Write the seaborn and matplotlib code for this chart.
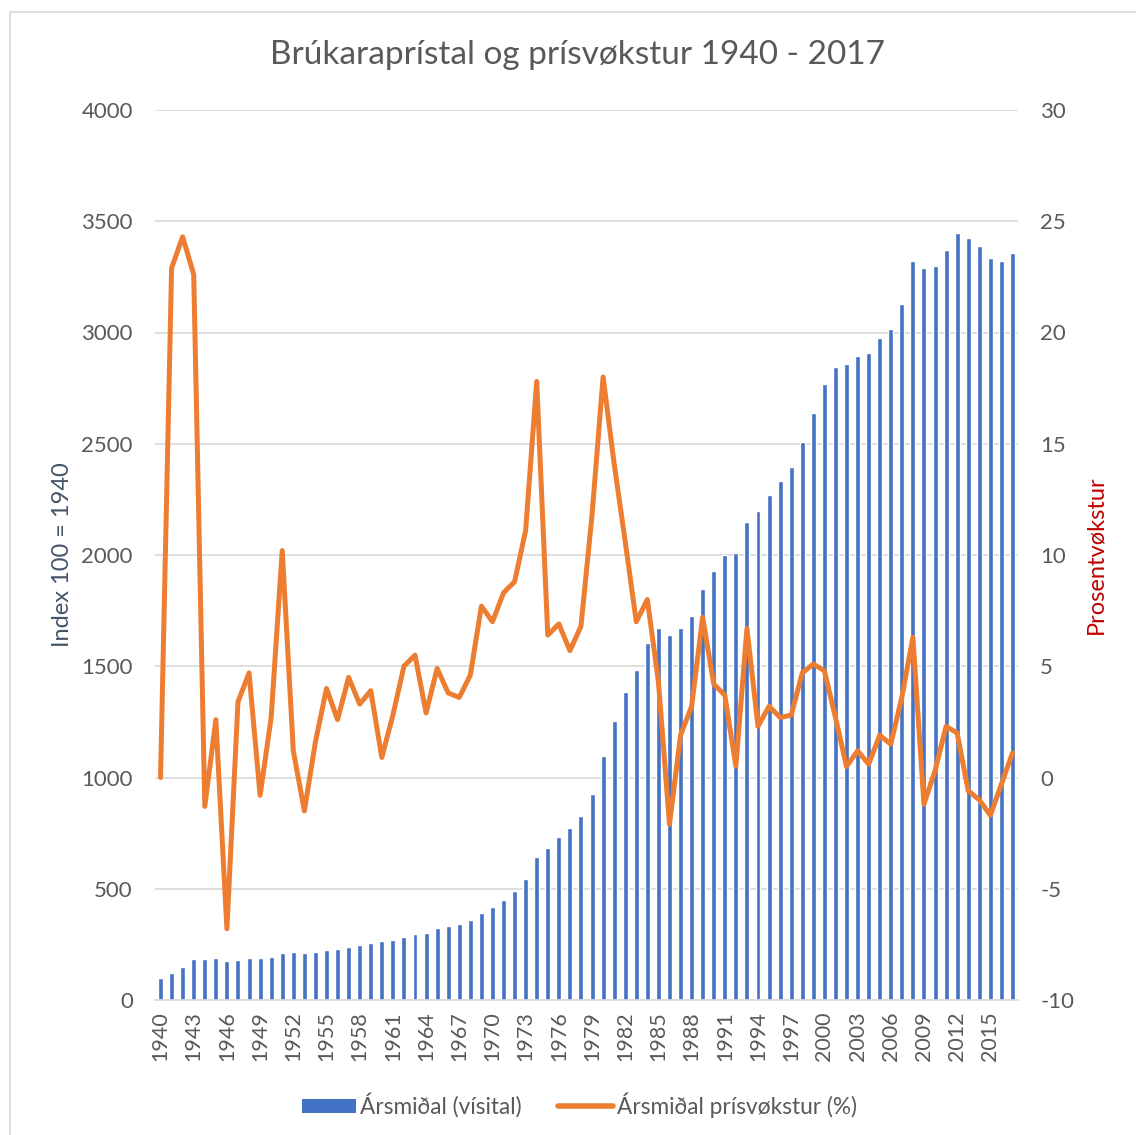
import numpy as np
import pandas as pd
import matplotlib
matplotlib.use("Agg")
import matplotlib.pyplot as plt
import seaborn as sns
from matplotlib.patches import Patch, Rectangle
from matplotlib.lines import Line2D

years = list(range(1940, 2018))

index_values = [
    100, 120, 150, 185, 185, 188, 175, 181, 188, 188,
    193, 213, 215, 210, 214, 223, 228, 240, 247, 258,
    263, 268, 282, 296, 303, 322, 334, 343, 359, 390,
    416, 449, 491, 545, 644, 684, 733, 775, 827, 925,
    1095, 1252, 1386, 1482, 1604, 1672, 1640, 1672, 1726, 1849,
    1929, 2001, 2008, 2149, 2199, 2271, 2333, 2394, 2509, 2638,
    2769, 2845, 2859, 2894, 2910, 2974, 3016, 3127, 3321, 3289,
    3300, 3373, 3448, 3425, 3390, 3333, 3321, 3359,
]

growth_pct = [
    0.0, 22.9, 24.3, 22.6, -1.3, 2.6, -6.8, 3.4, 4.7, -0.8,
    2.7, 10.2, 1.2, -1.5, 1.6, 4.0, 2.6, 4.5, 3.3, 3.9,
    0.9, 2.8, 5.0, 5.5, 2.9, 4.9, 3.8, 3.6, 4.6, 7.7,
    7.0, 8.3, 8.8, 11.1, 17.8, 6.4, 6.9, 5.7, 6.8, 11.8,
    18.0, 14.1, 10.6, 7.0, 8.0, 4.3, -2.1, 1.9, 3.2, 7.2,
    4.2, 3.7, 0.5, 6.7, 2.3, 3.2, 2.7, 2.8, 4.7, 5.1,
    4.8, 2.7, 0.5, 1.2, 0.6, 1.9, 1.5, 3.6, 6.3, -1.2,
    0.3, 2.3, 2.0, -0.6, -1.0, -1.7, -0.3, 1.1,
]

df = pd.DataFrame({
    "year": [str(y) for y in years],
    "index": index_values,
    "growth": growth_pct,
})

blue = "#4472C4"
orange = "#ED7D31"
grey_text = "#595959"
grid_col = "#D9D9D9"
font = "Lato"

sns.set_theme(style="white")
plt.rcParams["font.family"] = [font, "DejaVu Sans"]
plt.rcParams["axes.unicode_minus"] = False

fig = plt.figure(figsize=(11.36, 11.35), dpi=100)
ax = fig.add_axes([155 / 1136, 1 - 1000 / 1135, 863 / 1136, 890 / 1135])

sns.barplot(data=df, x="year", y="index", color=blue, width=0.45,
            saturation=1, ax=ax, zorder=2)

ax2 = ax.twinx()
sns.pointplot(data=df, x="year", y="growth", color=orange, markers="",
              linewidth=3.6, errorbar=None, ax=ax2)

ax.set_ylim(0, 4000)
ax.set_yticks(np.arange(0, 4001, 500))
ax2.set_ylim(-10, 30)
ax2.set_yticks(np.arange(-10, 31, 5))
ax.set_xlim(-0.5, len(years) - 0.5)

ax.yaxis.grid(True, color=grid_col, linewidth=1.2, zorder=0)
ax.set_axisbelow(True)
ax2.grid(False)

tick_pos = list(range(0, len(years), 3))
ax.set_xticks(tick_pos)
ax.set_xticklabels([df["year"][i] for i in tick_pos], rotation=90,
                   fontsize=15.5, color=grey_text)
ax2.set_xticks(tick_pos)

for a in (ax, ax2):
    for side in ("top", "left", "right", "bottom"):
        a.spines[side].set_visible(False)
    a.tick_params(length=0)
ax.spines["bottom"].set_visible(True)
ax.spines["bottom"].set_color(grid_col)
ax.spines["bottom"].set_linewidth(1.2)

ax.tick_params(axis="y", labelsize=16, labelcolor=grey_text, pad=16)
ax.tick_params(axis="x", pad=8)
ax2.tick_params(axis="y", labelsize=16, labelcolor=grey_text, pad=16)
ax2.tick_params(axis="x", labelbottom=False)

ax.set_xlabel("")
ax2.set_xlabel("")
ax.set_ylabel("Index 100 = 1940", fontsize=17, color="#44546A", labelpad=6)
ax2.set_ylabel("Prosentvøkstur", fontsize=17, color="#C00000", labelpad=8)

fig.text(578 / 1136, 1 - 55 / 1135, "Brúkaraprístal og prísvøkstur 1940 - 2017",
         ha="center", va="center", fontsize=24, color=grey_text)

handles = [
    Patch(facecolor=blue, edgecolor="none"),
    Line2D([0], [0], color=orange, linewidth=4),
]
fig.legend(handles, ["Ársmiðal (vísital)", "Ársmiðal prísvøkstur (%)"],
           loc="center", bbox_to_anchor=(0.51, 1 - 1105 / 1135), ncol=2,
           frameon=False, fontsize=16.3, handlelength=2.4, handleheight=0.6,
           handletextpad=0.2, columnspacing=1.6, labelcolor=grey_text)

# chart area border
fig.patches.append(Rectangle((10 / 1136, -0.01), 1.2, 1 - 12 / 1135 + 0.01,
                             transform=fig.transFigure, fill=False,
                             edgecolor=grid_col, linewidth=1.2))

fig.savefig("out.png", dpi=100)
